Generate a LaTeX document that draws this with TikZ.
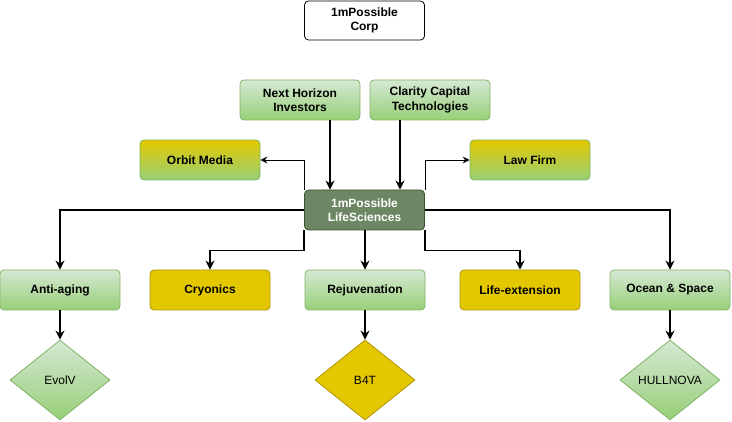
\documentclass[tikz,border=0pt]{standalone}
\usepackage{fontspec}
\setmainfont{Liberation Sans}
\usetikzlibrary{shapes.geometric,arrows.meta,calc}
\definecolor{gtop}{HTML}{D5E8D4}
\definecolor{gbot}{HTML}{97D077}
\definecolor{gline}{HTML}{82B366}
\definecolor{ylw}{HTML}{E3C800}
\definecolor{yline}{HTML}{B09500}
\definecolor{dgreen}{HTML}{6D8764}
\definecolor{dline}{HTML}{3A5431}
\tikzset{
  base/.style={rectangle, rounded corners=4pt, minimum width=120pt, minimum height=40pt, inner sep=0pt, align=center, line width=0.8pt, font=\fontsize{12}{14.5}\selectfont\bfseries},
  greenbox/.style={base, draw=gline, top color=gtop, bottom color=gbot},
  ygradbox/.style={base, draw=gline, top color=ylw, bottom color=gbot},
  ybox/.style={base, draw=yline, fill=ylw},
  hubbox/.style={base, draw=dline, fill=dgreen, text=white},
  corpbox/.style={base, draw=black, fill=white, minimum height=39pt},
  dia/.style={diamond, minimum width=100pt, minimum height=80pt, inner sep=0pt, line width=0.8pt, font=\fontsize{12}{14.5}\selectfont},
  gdia/.style={dia, draw=gline, top color=gtop, bottom color=gbot},
  ydia/.style={dia, draw=yline, fill=ylw},
  arr/.style={draw=black, line width=1.6pt, -{Stealth[length=9pt,width=9pt,inset=3pt]}},
  tarr/.style={draw=black, line width=0.8pt, -{Stealth[length=7pt,width=7pt,inset=2.5pt]}}
}
\begin{document}
\begin{tikzpicture}[x=1pt,y=-1pt]
\useasboundingbox (0,0) rectangle (732,422);
\node[corpbox] (corp) at (364.5,20.5) {1mPossible\\Corp};
\node[greenbox] (nh) at (300,100) {Next Horizon\\Investors};
\node[greenbox] (cc) at (430,100) {Clarity Capital\\Technologies};
\node[ygradbox] (om) at (200,160) {Orbit Media};
\node[ygradbox] (lf) at (530,160) {Law Firm};
\node[hubbox] (ls) at (364.5,210) {1mPossible\\LifeSciences};
\node[greenbox] (aa) at (60,290) {Anti-aging};
\node[ybox] (cr) at (210,290) {Cryonics};
\node[greenbox] (rj) at (365,290) {Rejuvenation};
\node[ybox] (le) at (520,290) {Life-extension};
\node[greenbox] (os) at (670,290) {Ocean \& Space};
\node[gdia] (ev) at (60,380) {EvolV};
\node[ydia] (b4) at (365,380) {B4T};
\node[gdia] (hn) at (670,380) {HULLNOVA};

\draw[arr] ([xshift=30pt]nh.south) -- ([xshift=30pt]nh.south |- ls.north);
\draw[arr] ([xshift=-30pt]cc.south) -- ([xshift=-30pt]cc.south |- ls.north);
\draw[tarr] (ls.north west) |- (om.east);
\draw[tarr] (ls.north east) |- (lf.west);
\draw[arr] (ls.west) -| (aa.north);
\draw[arr] (ls.east) -| (os.north);
\draw[arr] (ls.south west) -- ++(0,20) -| (cr.north);
\draw[arr] (ls.south east) -- ++(0,20) -| (le.north);
\draw[arr] (ls.south -| rj.north) -- (rj.north);
\draw[arr] (aa.south) -- (ev.north);
\draw[arr] (rj.south) -- (b4.north);
\draw[arr] (os.south) -- (hn.north);
\end{tikzpicture}
\end{document}
